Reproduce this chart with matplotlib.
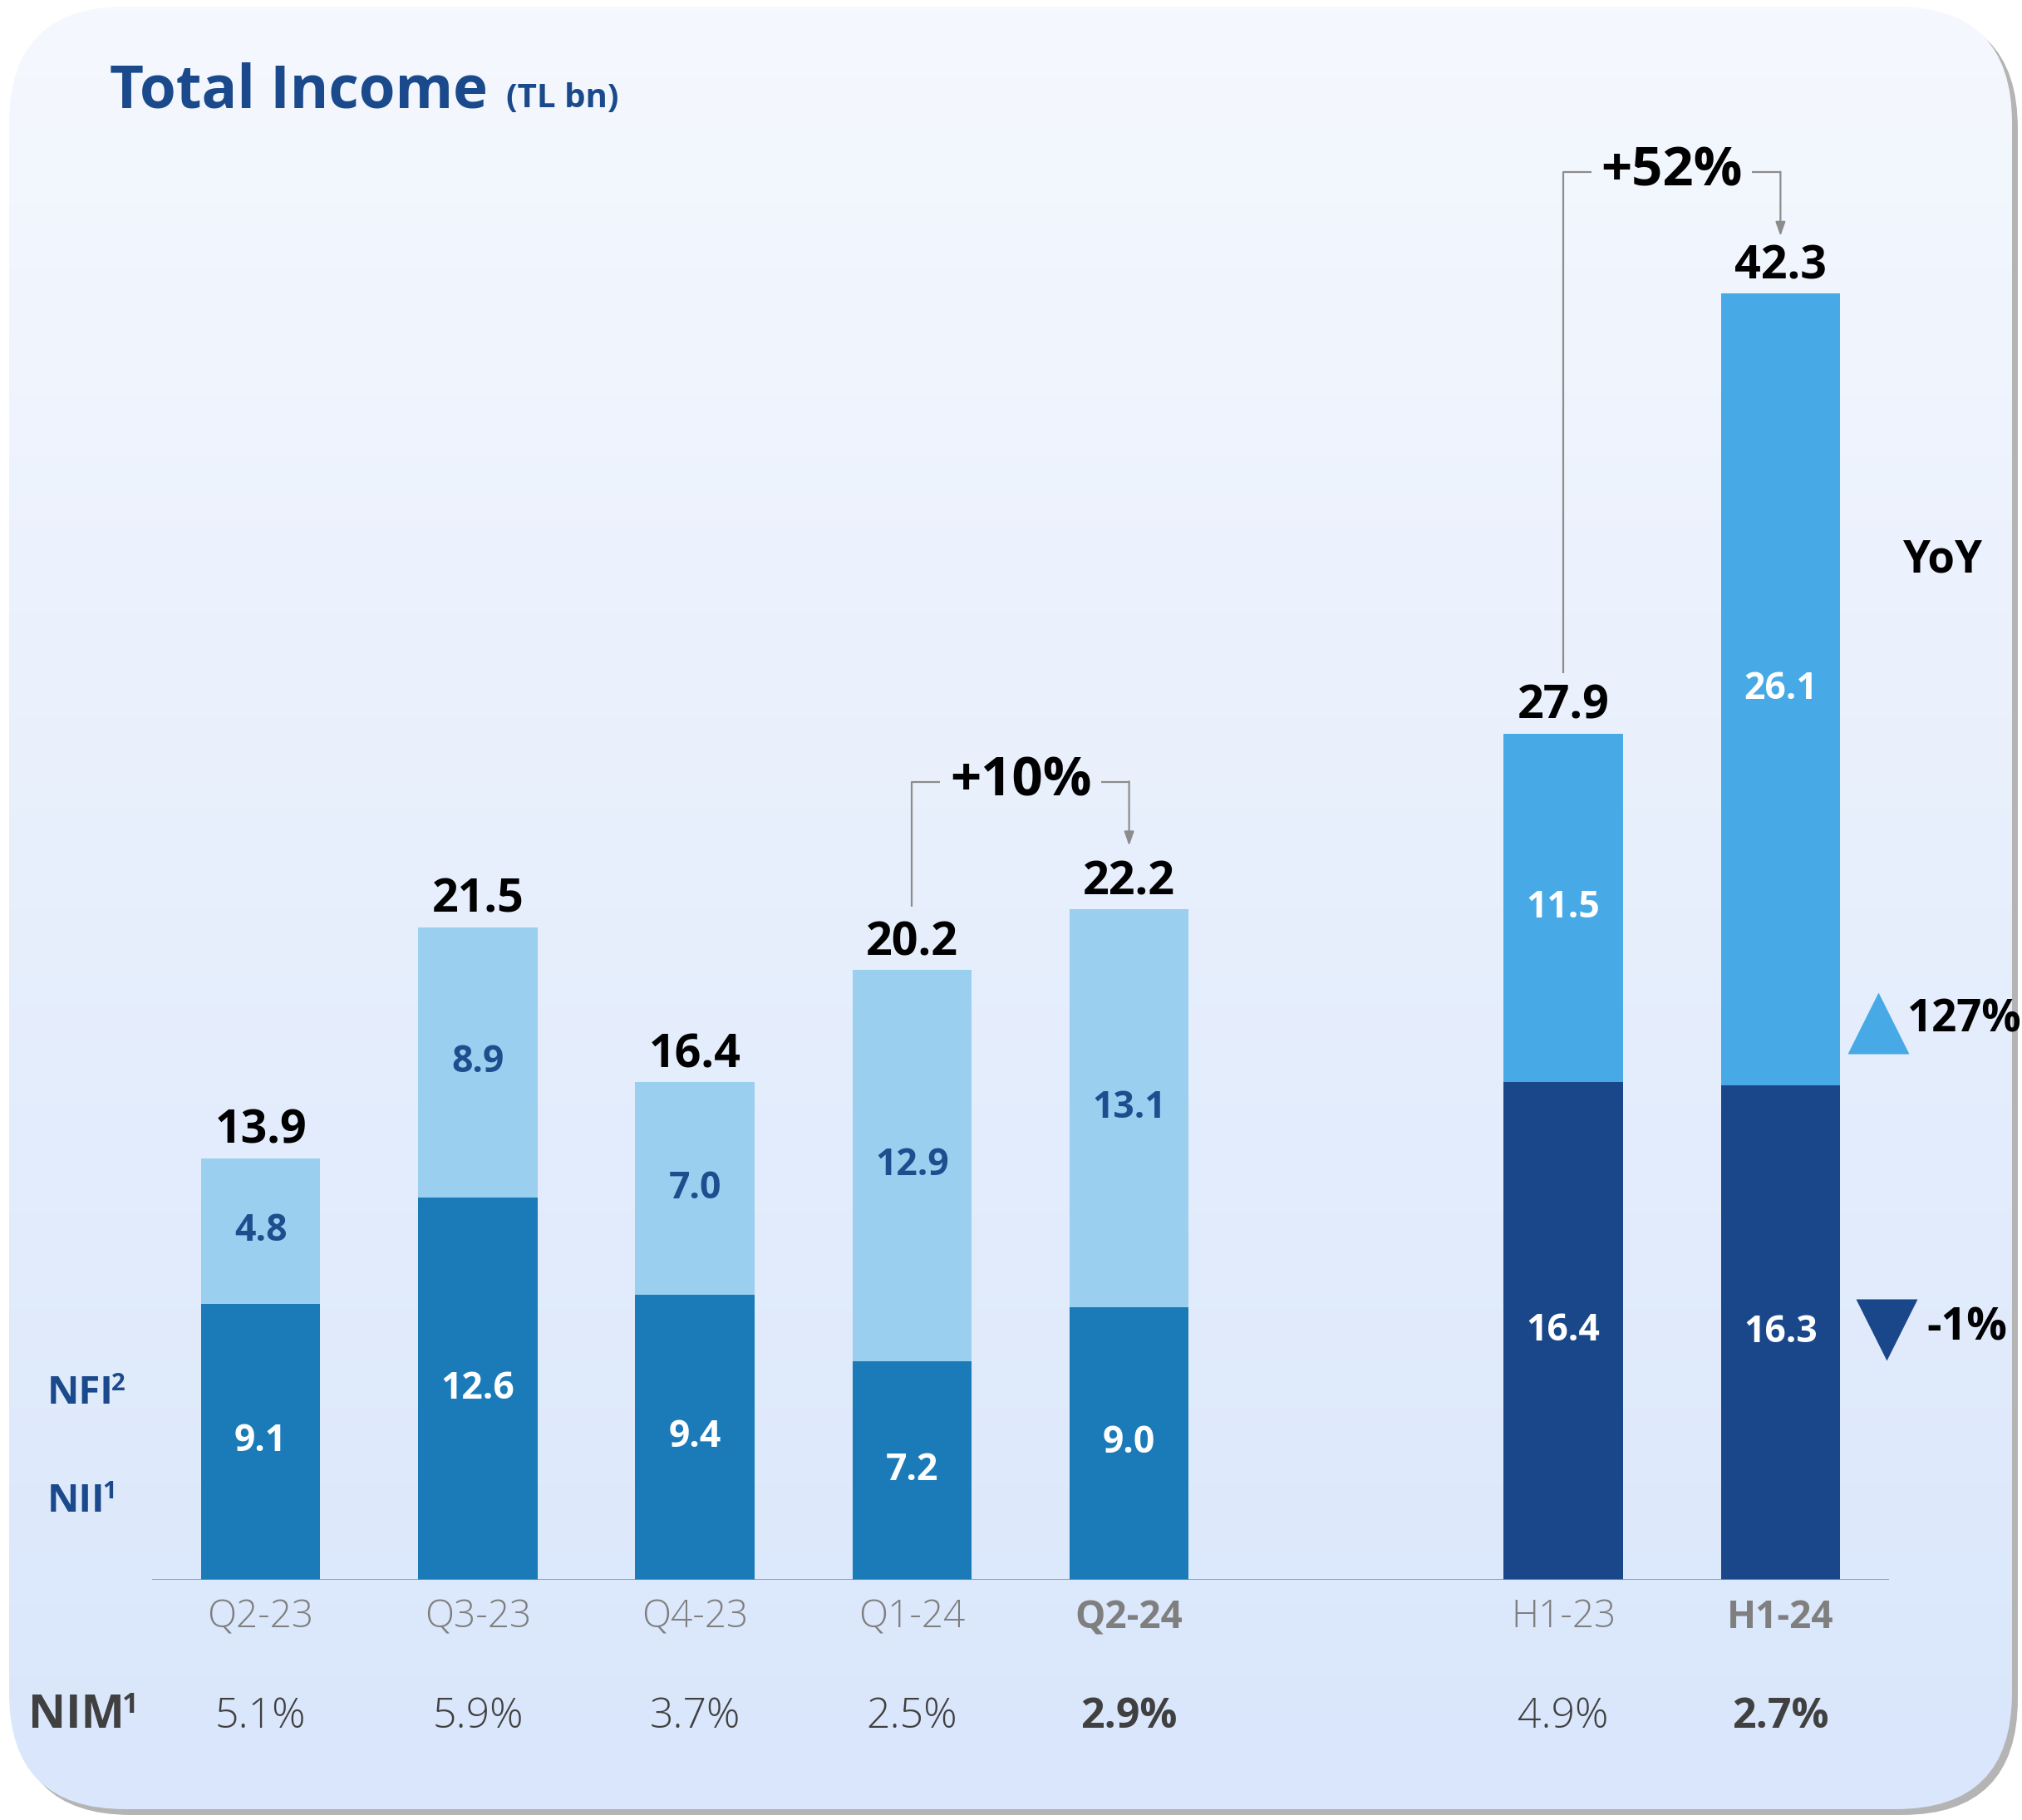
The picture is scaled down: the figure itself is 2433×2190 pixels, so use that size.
import matplotlib.pyplot as plt
import numpy as np
from matplotlib.patches import FancyBboxPatch
from matplotlib.colors import LinearSegmentedColormap
from matplotlib import transforms

plt.rcParams['font.family'] = ['Open Sans', 'DejaVu Sans']

# data
periods = ['Q2-23', 'Q3-23', 'Q4-23', 'Q1-24', 'Q2-24', 'H1-23', 'H1-24']
positions = [0, 1, 2, 3, 4, 6, 7]
nii = [9.1, 12.6, 9.4, 7.2, 9.0, 16.4, 16.3]
nfi = [4.8, 8.9, 7.0, 12.9, 13.1, 11.5, 26.1]
totals = [13.9, 21.5, 16.4, 20.2, 22.2, 27.9, 42.3]
nim = ['5.1%', '5.9%', '3.7%', '2.5%', '2.9%', '4.9%', '2.7%']
highlight = [False, False, False, False, True, False, True]
is_half = [False, False, False, False, False, True, True]
growth = [(3, 4, '+10%'), (5, 6, '+52%')]
yoy_nfi = '127%'
yoy_nii = '-1%'

# colours
title_col = '#1b4a8c'
nii_q, nfi_q = '#1b7bb8', '#9acff0'
nii_h, nfi_h = '#1a478a', '#47a9e5'
grey = '#8c8c8c'
dark = '#404040'

W, H = 2433, 2190
fig = plt.figure(figsize=(W / 100, H / 100), dpi=100)
fig.patch.set_facecolor('white')

# rounded background panel with gradient
bg = fig.add_axes([0, 0, 1, 1])
x0, y0, bw, bh, r = 11, 13, 2410, 2169, 140
shadow = FancyBboxPatch((x0 + 7, y0 - 7), bw, bh, boxstyle=f'round,pad=0,rounding_size={r}',
                        fc='#b4b4b4', ec='none', zorder=0)
bg.add_patch(shadow)
panel = FancyBboxPatch((x0, y0), bw, bh, boxstyle=f'round,pad=0,rounding_size={r}',
                       fc='none', ec='none', zorder=1)
bg.add_patch(panel)
cmap = LinearSegmentedColormap.from_list('bgc', ['#d9e6fb', '#f5f8fe'])
grad = np.linspace(0, 1, 256).reshape(-1, 1)
im = bg.imshow(grad, cmap=cmap, aspect='auto', origin='lower',
               extent=[x0, x0 + bw, y0, y0 + bh], zorder=2)
im.set_clip_path(panel)
bg.set_xlim(0, W)
bg.set_ylim(0, H)
bg.axis('off')

# main chart axes
ax = fig.add_axes([183 / W, 289 / H, 2090 / W, 1752 / H])
ax.patch.set_visible(False)
ax.set_xlim(-0.5, 7.5)
ax.set_ylim(0, 48)
for s in ax.spines.values():
    s.set_visible(False)
ax.set_yticks([])
ax.axhline(0, color='#8a8a8a', lw=1.8, zorder=3)

c_nii = [nii_h if h else nii_q for h in is_half]
c_nfi = [nfi_h if h else nfi_q for h in is_half]
ax.bar(positions, nii, width=0.55, color=c_nii, zorder=2)
ax.bar(positions, nfi, width=0.55, bottom=nii, color=c_nfi, zorder=2)

for x, a, b, t, h in zip(positions, nii, nfi, totals, is_half):
    ax.text(x, a / 2, f'{a:.1f}', ha='center', va='center', fontsize=32,
            weight='bold', color='white')
    ax.text(x, a + b / 2, f'{b:.1f}', ha='center', va='center', fontsize=32,
            weight='bold', color='white' if h else '#1f4e8f')
    ax.text(x, a + b + 0.5, f'{t:.1f}', ha='center', va='baseline', fontsize=40,
            weight='bold', color='black')

# growth brackets
for i, j, lab in growth:
    xa, xb = positions[i], positions[j]
    yb = max(totals[i], totals[j]) + 4.1
    xm = (xa + xb) / 2
    g = 0.37
    ax.plot([xa, xa, xm - g], [totals[i] + 2.0, yb, yb], color=grey, lw=1.6,
            solid_capstyle='butt')
    ax.plot([xm + g, xb], [yb, yb], color=grey, lw=1.6, solid_capstyle='butt')
    ax.annotate('', xy=(xb, totals[j] + 2.0), xytext=(xb, yb + 0.02),
                arrowprops=dict(arrowstyle='-|>,head_length=1.0,head_width=0.35',
                                color=grey, lw=1.6, shrinkA=0, shrinkB=0))
    ax.text(xm, yb, lab, ha='center', va='center', fontsize=47, weight='bold',
            color='black')

# YoY markers
ax.text(7.75, 33.6, 'YoY', ha='center', va='center', fontsize=38, weight='bold')
ax.plot([7.45], [18.35], marker='^', ms=53, color=nfi_h, mec='none', clip_on=False)
ax.text(7.585, 18.45, yoy_nfi, ha='left', va='center', fontsize=38, weight='bold')
ax.plot([7.49], [8.25], marker='v', ms=53, color=nii_h, mec='none', clip_on=False)
ax.text(7.675, 8.3, yoy_nii, ha='left', va='center', fontsize=39, weight='bold')

# x tick labels
ax.set_xticks(positions, periods)
ax.tick_params(axis='x', length=0, pad=16, labelsize=33, labelcolor='#7f7f7f')
for lbl, hl in zip(ax.get_xticklabels(), highlight):
    lbl.set_fontweight('bold' if hl else 300)

# NIM row
trans = transforms.blended_transform_factory(ax.transData, fig.transFigure)
for x, v, hl in zip(positions, nim, highlight):
    ax.text(x, 0.0505, v, transform=trans, ha='center', va='baseline', fontsize=36,
            color=dark, weight='bold' if hl else 300)

# title
title = fig.text(132 / W, 1 - 129 / H, 'Total Income', ha='left', va='baseline',
                 fontsize=51, weight='bold', color=title_col)

fig.canvas.draw()
ext = title.get_window_extent()
fig.text((ext.x1 + 22) / W, 1 - 129 / H, '(TL bn)', ha='left', va='baseline',
         fontsize=29, weight='bold', color=title_col)


def label_with_sup(xpx, ybase, base, sup, size, color):
    t = fig.text(xpx / W, ybase, base, ha='left', va='baseline', fontsize=size,
                 weight='bold', color=color)
    fig.canvas.draw()
    e = t.get_window_extent()
    em = size * 100 / 72
    fig.text((e.x1 - 3) / W, ybase + 0.33 * em / H, sup, ha='left', va='baseline',
             fontsize=size * 0.62, weight='bold', color=color)


label_with_sup(34, 0.0505, 'NIM', '1', 40, dark)
label_with_sup(57, 0.2288, 'NFI', '2', 34, title_col)
label_with_sup(57, 0.1694, 'NII', '1', 34, title_col)

fig.savefig('out.png', dpi=100, facecolor='white')
